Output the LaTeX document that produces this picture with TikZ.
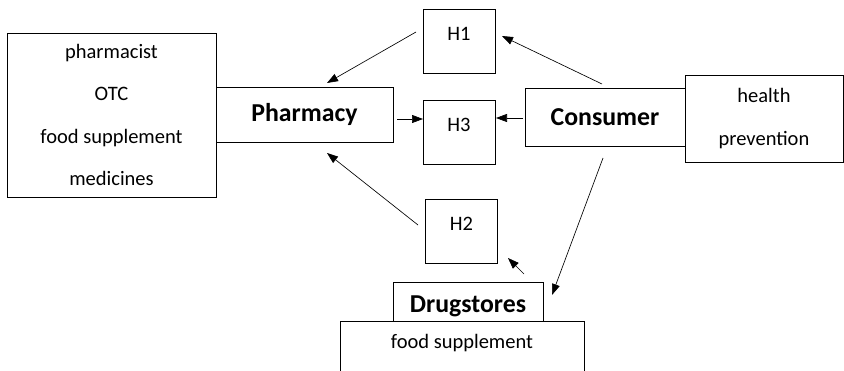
\documentclass[tikz,border=0pt]{standalone}
\usepackage{fontspec}
\setmainfont{Carlito}
\usetikzlibrary{arrows.meta}

\begin{document}
\begin{tikzpicture}[x=1pt,y=-1pt,
		box/.style={draw, line width=0.9pt, inner sep=0pt, align=center, font=\fontsize{20.5}{42.5}\selectfont},
		headbox/.style={box, font=\fontsize{25.8}{30}\selectfont\bfseries},
		hbox/.style={box, minimum width=72pt, minimum height=64pt, text height=13pt, text depth=14pt},
		link/.style={line width=0.65pt, -{Triangle[length=11pt,width=8pt]}}]
		
		\clip (0,0) rectangle (844,371);
		
		%Pharmacy side
		\node[box, minimum width=209pt, minimum height=164pt] (features) at (111.5,115) {pharmacist\\OTC\\food supplement\\medicines};
		\node[headbox, minimum width=177pt, minimum height=55pt] (pharmacy) at (304.5,114.5) {Pharmacy};
		
		%Hypotheses
		\node[hbox] (H1) at (459,41) {H1};
		\node[hbox] (H3) at (459,132) {H3};
		\node[hbox] (H2) at (461.5,231) {H2};
		
		%Consumer side
		\node[headbox, minimum width=160pt, minimum height=58pt] (consumer) at (605,117) {Consumer};
		\node[box, minimum width=158pt, minimum height=87pt] (motives) at (764,118.5) {health\\prevention};
		
		%Drugstores
		\node[box, minimum width=244pt, minimum height=60pt, text height=15pt, text depth=19pt] (assortment) at (462,351) {food supplement};
		\node[headbox, minimum width=150pt, minimum height=39pt, text height=27pt, text depth=4pt] (drugstores) at (468,301.5) {Drugstores};
		
		%Arrow ends
		\coordinate (h1out) at (416,32);
		\coordinate (pharmtop) at (327,83);
		\coordinate (consout) at (602,84);
		\coordinate (h1in) at (502,36);
		\coordinate (pharmout) at (397,119);
		\coordinate (h3left) at (423,119);
		\coordinate (consleft) at (523,118);
		\coordinate (h3right) at (496,118);
		\coordinate (h2out) at (418,225);
		\coordinate (pharmbot) at (327,153);
		\coordinate (drugout) at (524,274);
		\coordinate (h2in) at (508,258);
		\coordinate (consbot) at (603,158);
		\coordinate (drugin) at (552,295);
		
		\draw[link] (h1out) -- (pharmtop);
		\draw[link] (consout) -- (h1in);
		\draw[link] (pharmout) -- (h3left);
		\draw[link] (consleft) -- (h3right);
		\draw[link] (h2out) -- (pharmbot);
		\draw[link] (drugout) -- (h2in);
		\draw[link] (consbot) -- (drugin);
		
\end{tikzpicture}
\end{document}
